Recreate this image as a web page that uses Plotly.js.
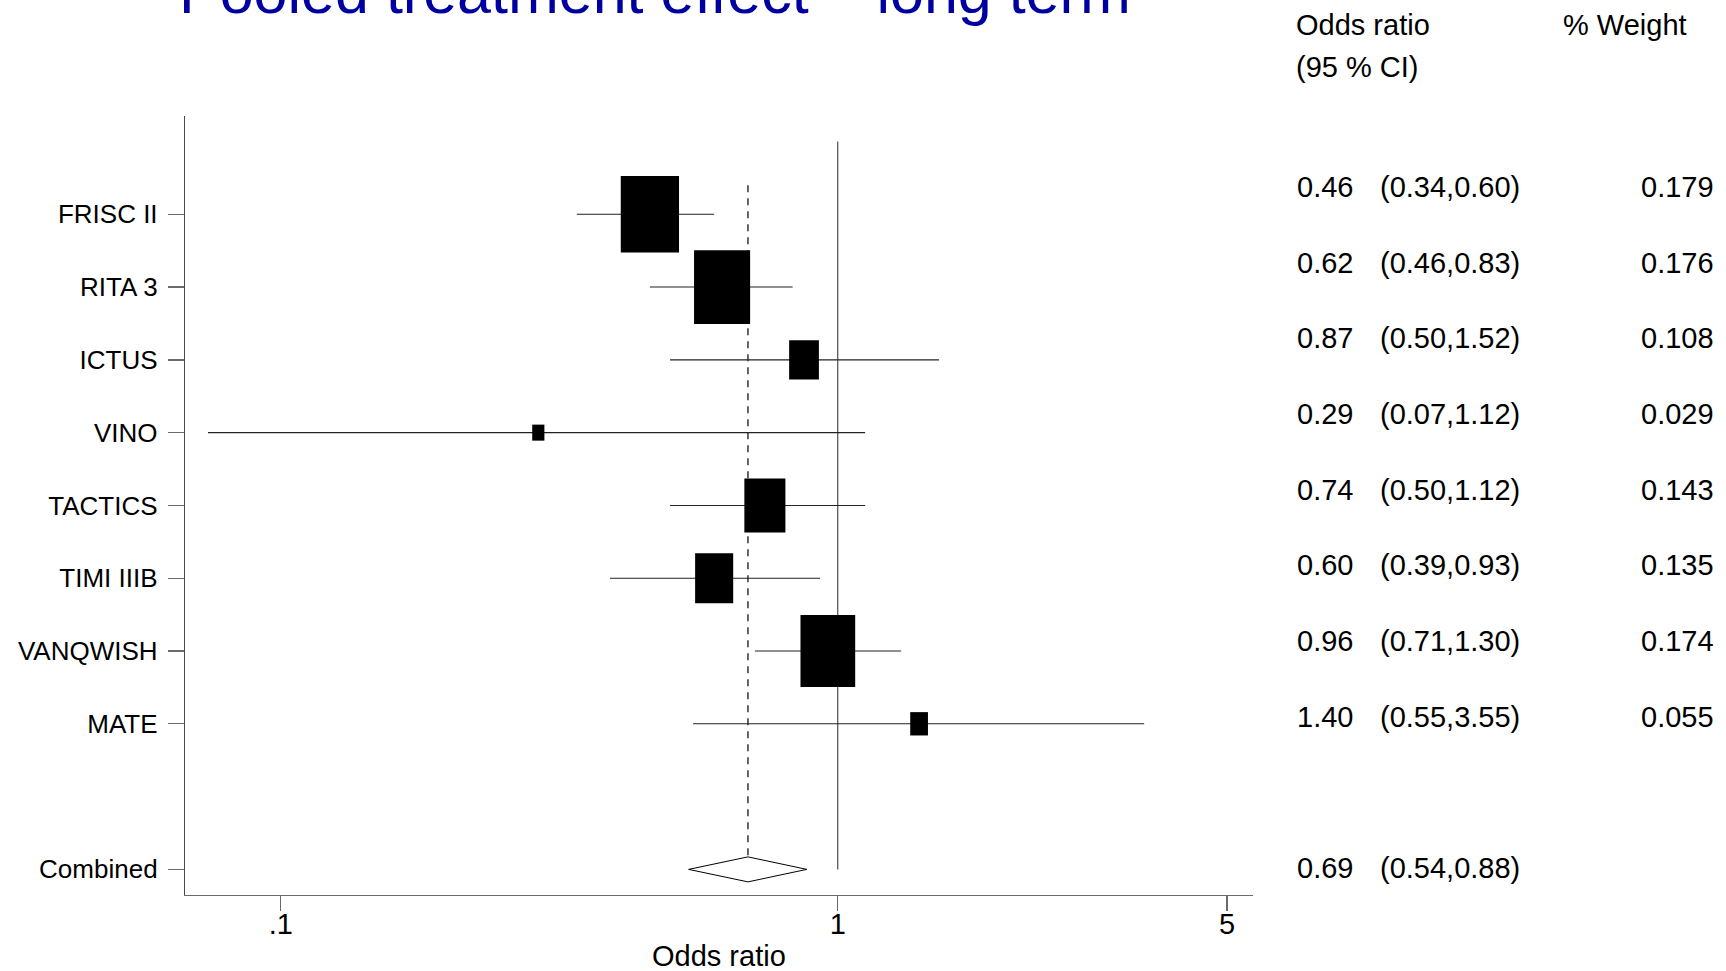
<!DOCTYPE html>
<html><head><meta charset="utf-8">
<script src="https://cdn.plot.ly/plotly-3.0.1.min.js"></script>
<style>html,body{margin:0;padding:0;background:#fff;}#chart{width:1726px;height:971px;}</style>
</head><body><div id="chart"></div>
<script>
// ---- data ----
const studies   = ["FRISC II","RITA 3","ICTUS","VINO","TACTICS","TIMI IIIB","VANQWISH","MATE"];
const oddsRatio = [0.46, 0.62, 0.87, 0.29, 0.74, 0.60, 0.96, 1.40];
const ciLow     = [0.34, 0.46, 0.50, 0.074, 0.50, 0.39, 0.71, 0.55];
const ciHigh    = [0.60, 0.83, 1.52, 1.12, 1.12, 0.93, 1.30, 3.55];
const weights   = [0.179, 0.176, 0.108, 0.029, 0.143, 0.135, 0.174, 0.055];
const combinedLabel = ["Combined"];
const pooled    = [0.69];      // pooled odds ratio
const pooledCI  = [0.54, 0.88];
const xTickVals = [0.1, 1, 5];
const xTickText = [".1", "1", "5"];
const titleText = "Pooled treatment effect \u2013 long term";

// ---- geometry / style ----
const W = 1726, H = 971;
const PL = 185.4, PR = 1252.7, PT = 116, PB = 895;
const xRange = [-1.172, 0.7457];
const yRange = [10.352, -0.350];
const y2Range = [10.354, 0.062];
const FONT = "Liberation Sans, Arial, Helvetica, sans-serif";
const pxPerDecade = (PR - PL) / (xRange[1] - xRange[0]);
const pxPerRow = (PB - PT) / (yRange[0] - yRange[1]);
const boxScale = 11.1;      // px of box height per 1/SE (area ~ inverse variance)
const boxAspect = 0.76;     // width/height of the boxes

const rowY = studies.map((s, i) => i + 1);
const combY = studies.length + 2;

const px = v => (v - PL) / (PR - PL);
const py = v => (PB - v) / (PB - PT);

const traces = [];
// reference line at OR = 1
traces.push({x: [1, 1], y: [0, combY], mode: 'lines', line: {color: '#5a5a5a', width: 1.3}, hoverinfo: 'skip', showlegend: false});
// dashed pooled line
traces.push({x: [pooled[0], pooled[0]], y: [0.6, combY], mode: 'lines', line: {color: '#000', width: 1.2, dash: '7px,6px'}, hoverinfo: 'skip', showlegend: false});
// CI lines
const cx = [], cy = [];
studies.forEach((s, i) => { cx.push(ciLow[i], ciHigh[i], null); cy.push(rowY[i], rowY[i], null); });
traces.push({x: cx, y: cy, mode: 'lines', line: {color: '#222', width: 1.1}, hoverinfo: 'skip', showlegend: false});
// boxes
studies.forEach((s, i) => {
  const se = (Math.log(ciHigh[i]) - Math.log(ciLow[i])) / (2 * 1.96);
  const hpx = boxScale / se, wpx = hpx * boxAspect;
  const a = wpx / 2 / pxPerDecade, b = hpx / 2 / pxPerRow;
  const x0 = oddsRatio[i] * Math.pow(10, -a), x1 = oddsRatio[i] * Math.pow(10, a);
  const y = rowY[i];
  traces.push({x: [x0, x1, x1, x0, x0], y: [y - b, y - b, y + b, y + b, y - b],
    mode: 'lines', fill: 'toself', fillcolor: '#000', line: {width: 0, color: '#000'},
    hoverinfo: 'skip', showlegend: false});
});
// diamond
const dh = 12.5 / pxPerRow;
traces.push({x: [pooledCI[0], pooled[0], pooledCI[1], pooled[0], pooledCI[0]],
  y: [combY, combY - dh, combY, combY + dh, combY],
  mode: 'lines', fill: 'toself', fillcolor: '#fff', line: {color: '#000', width: 1},
  hoverinfo: 'skip', showlegend: false});

// ---- annotations ----
const ann = [];
ann.push({text: titleText, xref: 'paper', yref: 'paper', x: px(177), y: py(-8), xanchor: 'left', yanchor: 'middle',
  showarrow: false, font: {family: FONT, size: 61, color: '#0000A0'}});
ann.push({text: 'Odds ratio', xref: 'paper', yref: 'paper', x: 0.5, y: py(956), xanchor: 'center', yanchor: 'middle',
  showarrow: false, font: {family: FONT, size: 29, color: '#000'}});
const tfont = {family: FONT, size: 29, color: '#000'};
ann.push({text: 'Odds ratio', xref: 'paper', yref: 'paper', x: px(1294), y: py(25), xanchor: 'left', yanchor: 'middle', showarrow: false, font: tfont});
ann.push({text: '(95 % CI)', xref: 'paper', yref: 'paper', x: px(1294), y: py(67.5), xanchor: 'left', yanchor: 'middle', showarrow: false, font: tfont});
ann.push({text: '% Weight', xref: 'paper', yref: 'paper', x: px(1560), y: py(25), xanchor: 'left', yanchor: 'middle', showarrow: false, font: tfont});
const f2 = v => v.toFixed(2);
studies.forEach((s, i) => {
  ann.push({text: f2(oddsRatio[i]), xref: 'paper', yref: 'y2', x: px(1295), y: rowY[i], xanchor: 'left', yanchor: 'middle', showarrow: false, font: tfont});
  ann.push({text: '(' + f2(ciLow[i]) + ',' + f2(ciHigh[i]) + ')', xref: 'paper', yref: 'y2', x: px(1378), y: rowY[i], xanchor: 'left', yanchor: 'middle', showarrow: false, font: tfont});
  ann.push({text: weights[i].toFixed(3), xref: 'paper', yref: 'y2', x: px(1715), y: rowY[i], xanchor: 'right', yanchor: 'middle', showarrow: false, font: tfont});
});
ann.push({text: f2(pooled[0]), xref: 'paper', yref: 'y2', x: px(1295), y: combY, xanchor: 'left', yanchor: 'middle', showarrow: false, font: tfont});
ann.push({text: '(' + f2(pooledCI[0]) + ',' + f2(pooledCI[1]) + ')', xref: 'paper', yref: 'y2', x: px(1378), y: combY, xanchor: 'left', yanchor: 'middle', showarrow: false, font: tfont});

const layout = {
  width: W, height: H,
  margin: {l: PL, r: W - PR, t: PT, b: H - PB, pad: 0},
  paper_bgcolor: '#fff', plot_bgcolor: '#fff',
  showlegend: false, hovermode: false,
  font: {family: FONT, color: '#000'},
  xaxis: {type: 'log', range: xRange, tickvals: xTickVals, ticktext: xTickText,
    showgrid: false, zeroline: false, showline: true, linecolor: '#6a6a6a', linewidth: 1.3,
    ticks: 'outside', ticklen: 15, tickwidth: 1.3, tickcolor: '#6a6a6a', ticklabelstandoff: -12,
    tickfont: {family: FONT, size: 29, color: '#000'}, fixedrange: true},
  yaxis: {range: yRange, tickvals: rowY.concat([combY]), ticktext: studies.concat(combinedLabel),
    showgrid: false, zeroline: false, showline: true, linecolor: '#4a4a4a', linewidth: 1.2,
    ticks: 'outside', ticklen: 16, tickwidth: 1.3, tickcolor: '#6a6a6a', ticklabelstandoff: 5,
    tickfont: {family: FONT, size: 26, color: '#000'}, fixedrange: true},
  yaxis2: {range: y2Range, overlaying: 'y', visible: false, fixedrange: true},
  annotations: ann
};

Plotly.newPlot('chart', traces, layout, {staticPlot: true, displayModeBar: false});
</script>
</body></html>
